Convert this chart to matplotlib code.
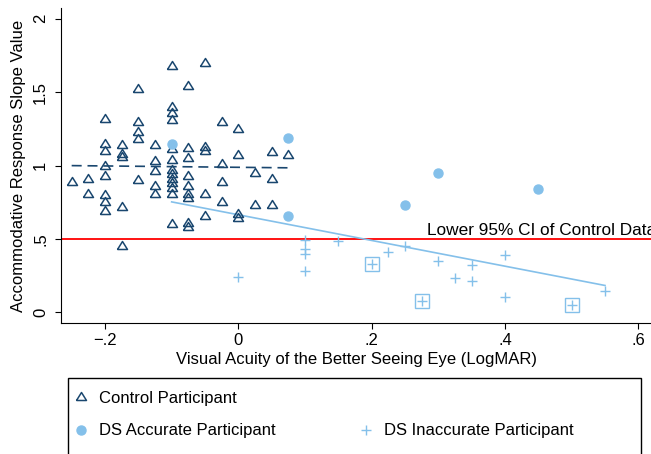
import matplotlib
matplotlib.use("Agg")
import matplotlib.pyplot as plt
from matplotlib.lines import Line2D
from matplotlib.patches import Rectangle

plt.rcParams["font.family"] = ["Liberation Sans", "DejaVu Sans"]
plt.rcParams["font.size"] = 12

# control participants (LogMAR, slope)
ctrl_x = [-0.25,
          -0.225, -0.225,
          -0.2, -0.2, -0.2, -0.2, -0.2, -0.2, -0.2, -0.2,
          -0.175, -0.175, -0.175, -0.175, -0.175,
          -0.15, -0.15, -0.15, -0.15, -0.15,
          -0.125, -0.125, -0.125, -0.125, -0.125,
          -0.1, -0.1, -0.1, -0.1, -0.1, -0.1, -0.1, -0.1, -0.1, -0.1, -0.1, -0.1, -0.1,
          -0.075, -0.075, -0.075, -0.075, -0.075, -0.075, -0.075, -0.075, -0.075,
          -0.05, -0.05, -0.05, -0.05, -0.05,
          -0.025, -0.025, -0.025, -0.025,
          0.0, 0.0, 0.0, 0.0,
          0.025, 0.025,
          0.05, 0.05, 0.05,
          0.075]
ctrl_y = [0.89,
          0.91, 0.81,
          1.32, 1.15, 1.10, 1.00, 0.93, 0.80, 0.75, 0.69,
          1.14, 1.08, 1.06, 0.72, 0.45,
          1.52, 1.30, 1.23, 1.18, 0.90,
          1.14, 1.03, 0.96, 0.86, 0.81,
          1.68, 1.40, 1.36, 1.31, 1.11, 1.04, 0.97, 0.94, 0.91, 0.88, 0.85, 0.81, 0.60,
          1.54, 1.12, 1.05, 0.93, 0.86, 0.81, 0.78, 0.61, 0.58,
          1.70, 1.13, 1.10, 0.81, 0.66,
          1.30, 1.01, 0.89, 0.75,
          1.25, 1.07, 0.67, 0.645,
          0.95, 0.73,
          1.09, 0.91, 0.73,
          1.07]

# DS accurate participants
acc_x = [-0.1, 0.075, 0.075, 0.25, 0.3, 0.45]
acc_y = [1.15, 1.19, 0.66, 0.735, 0.95, 0.84]

# DS inaccurate participants
inacc_x = [0.0, 0.1, 0.1, 0.1, 0.1, 0.15, 0.2, 0.225, 0.25, 0.275, 0.3,
           0.325, 0.35, 0.35, 0.4, 0.4, 0.5, 0.55]
inacc_y = [0.24, 0.495, 0.43, 0.40, 0.285, 0.49, 0.33, 0.415, 0.45, 0.077, 0.35,
           0.236, 0.32, 0.213, 0.39, 0.104, 0.048, 0.145]

# inaccurate participants drawn with a box around them
boxed_x = [0.2, 0.275, 0.5]
boxed_y = [0.33, 0.077, 0.048]

# fitted lines
ctrl_fit_x = [-0.25, 0.075]
ctrl_fit_y = [1.0, 0.985]
ds_fit_x = [-0.1, 0.55]
ds_fit_y = [0.753, 0.184]
ci_lower = 0.5

xticks = [-0.2, 0.0, 0.2, 0.4, 0.6]
xticklabels = ["\u2212.2", "0", ".2", ".4", ".6"]
yticks = [0, 0.5, 1, 1.5, 2]
yticklabels = ["0", ".5", "1", "1.5", "2"]

navy = "#1a476f"
ltblue = "#84c0ea"
tri = [(-0.5, -0.3), (0.5, -0.3), (0.0, 0.5), (-0.5, -0.3)]

fig = plt.figure(figsize=(6.51, 4.54), dpi=100)
ax = fig.add_axes([61 / 651, 131 / 454, 590 / 651, 315 / 454])

ax.axhline(ci_lower, color="red", lw=1.3, zorder=1)
ax.plot(ctrl_fit_x, ctrl_fit_y, color=navy, lw=1.2, dashes=(6, 3.5), zorder=2)
ax.plot(ds_fit_x, ds_fit_y, color=ltblue, lw=1.2, zorder=2)

ax.plot(ctrl_x, ctrl_y, linestyle="none", marker=tri, ms=7.2, mfc="none",
        mec=navy, mew=1.1, zorder=3)
ax.plot(acc_x, acc_y, linestyle="none", marker="o", ms=6.5, mfc=ltblue,
        mec=ltblue, zorder=3)
ax.plot(inacc_x, inacc_y, linestyle="none", marker="+", ms=7, mec=ltblue,
        mew=1.0, zorder=3)
ax.plot(boxed_x, boxed_y, linestyle="none", marker="s", ms=9.5, mfc="none",
        mec=ltblue, mew=1.0, zorder=3)

ax.text(0.283, 0.53, "Lower 95% CI of Control Data", ha="left", va="baseline",
        fontsize=12.4)

ax.set_xlim(-0.266, 0.619)
ax.set_ylim(-0.0715, 2.073)
ax.set_xticks(xticks)
ax.set_xticklabels(xticklabels)
ax.set_yticks(yticks)
ax.set_yticklabels(yticklabels, rotation=90, va="center")
ax.tick_params(direction="out", length=4.3, width=0.8, pad=3)
ax.tick_params(axis="y", pad=5)
for s in ["top", "right"]:
    ax.spines[s].set_visible(False)
ax.set_xlabel("Visual Acuity of the Better Seeing Eye (LogMAR)", labelpad=3)
ax.set_ylabel("Accommodative Response Slope Value", labelpad=5)

# legend
h_ctrl = Line2D([], [], linestyle="none", marker=tri, ms=7.2, mfc="none",
                mec=navy, mew=1.1)
h_acc = Line2D([], [], linestyle="none", marker="o", ms=6.5, mfc=ltblue, mec=ltblue)
h_blank = Line2D([], [], linestyle="none", marker="none")
h_inacc = Line2D([], [], linestyle="none", marker="+", ms=7, mec=ltblue, mew=1.0)
fig.legend([h_ctrl, h_acc, h_blank, h_inacc],
           ["Control Participant", "DS Accurate Participant", "",
            "DS Inaccurate Participant"],
           ncol=2, loc="upper left", bbox_to_anchor=(68.3 / 651, 1 - 382 / 454),
           frameon=False, borderaxespad=0, borderpad=0.55, handlelength=0.4,
           handletextpad=0.9, labelspacing=1.04, columnspacing=5.2, fontsize=12)
fig.patches.append(Rectangle((68.3 / 651, -0.2), (641 - 68.3) / 651,
                             1 - 378 / 454 + 0.2, transform=fig.transFigure,
                             fill=False, ec="black", lw=1))

fig.savefig("out.png", dpi=100)
